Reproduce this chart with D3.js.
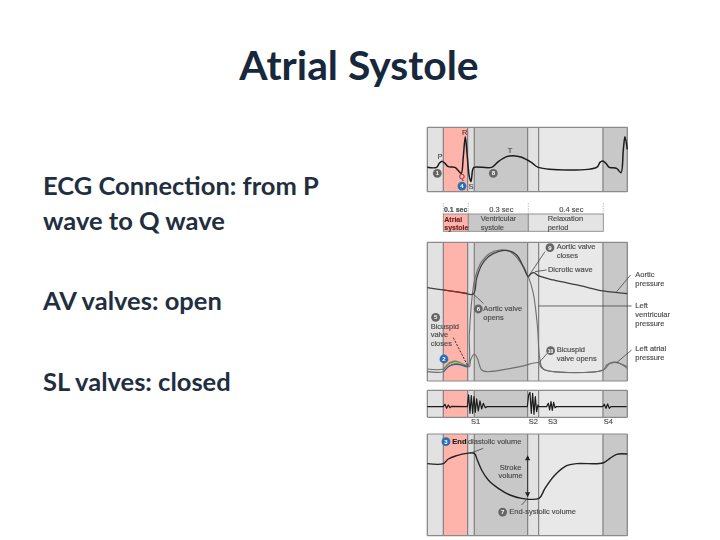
<!DOCTYPE html>
<html>
<head>
<meta charset="utf-8">
<script src="https://cdn.jsdelivr.net/npm/d3@7"></script>
<style>
  html, body { margin: 0; padding: 0; background: #fff; }
</style>
</head>
<body>
<div id="slide"></div>
<script>
// slide text
const titleText = "Atrial Systole";
const bodyLines = [
  ["ECG Connection: from P", 195], ["wave to Q wave", 230],
  ["AV valves: open", 310],
  ["SL valves: closed", 391]
];

// phase bands along the cardiac cycle (t = position across the figure, 0-600)
const bandEdges = [0, 48, 121, 141, 301, 334, 527, 600];
const bandColors = ["#e2e2e2", "#ffb4ab", "#dedede", "#c8c8c8", "#e2e2e2", "#e8e8e8", "#c8c8c8"];

// phase strip between the ECG and the pressure panel
const phaseEdges = [48, 123, 303, 528];
const phaseColors = ["#ffb4ab", "#c8c8c8", "#e4e4e4"];
const phaseDurations = ["0.1 sec", "0.3 sec", "0.4 sec"];

// traces, [t, value]
const ecg = [[0,73],[28,73],[36,85],[44,91],[53,85],[63,75],[83,73],[96,60],[102,55],[108,105],[114,165],[120,105],[126,45],[131,30],[136,65],[140,73],[193,73],[213,90],[238,105],[258,108],[283,103],[313,87],[333,73],[508,73],[518,88],[526,92],[536,85],[546,73],[568,70],[581,57],[588,125],[593,165],[600,127]];
const aortic = [[0,280],[48,273],[98,266],[138,261],[148,308],[163,348],[183,373],[213,388],[243,391],[268,378],[288,343],[303,313],[311,322],[320,325],[333,316],[378,303],[458,286],[528,270],[600,262]];
const aorticPink = [[48,273],[98,266],[121,263]];
const ventricular = [[0,28],[48,28],[63,43],[88,53],[121,43],[126,138],[133,238],[143,308],[163,358],[188,383],[218,393],[248,388],[278,358],[303,313],[318,263],[330,168],[336,78],[343,43],[353,33],[528,33],[548,53],[568,56],[600,38]];
const atrial = [[0,36],[48,36],[68,53],[88,58],[108,48],[126,43],[130,63],[141,81],[150,68],[163,33],[178,28],[278,43],[335,55],[340,43],[353,33],[528,33],[538,48],[563,56],[600,43]];
const atrialGreen = [[48,33],[63,53],[83,60],[103,53],[123,43]];
const atrialYellow = [[52,36],[68,50],[88,55],[106,50],[123,43]];
const atrialBlue = [[48,28],[68,46],[88,50],[123,43]];
const sounds = [[0,32],[48,32],[53,39],[58,27],[63,37],[68,29],[73,33],[120,32],[124,67],[128,12],[132,65],[136,12],[140,62],[144,15],[148,55],[153,19],[158,49],[163,25],[168,42],[174,29],[180,32],[300,32],[304,67],[308,75],[312,12],[316,72],[320,9],[324,62],[328,17],[332,37],[335,32],[358,32],[363,42],[367,22],[371,47],[375,21],[379,45],[383,29],[388,32],[526,32],[531,39],[536,27],[541,40],[546,27],[551,32],[598,32]];
const volume = [[0,216],[48,216],[63,230],[88,240],[118,247],[141,247],[150,227],[163,197],[183,167],[213,142],[248,122],[283,112],[335,112],[353,142],[383,182],[418,210],[448,216],[527,218],[548,232],[568,244],[600,245]];

const soundNames = [["S1",145],["S2",318],["S3",376],["S4",543]];

const svg = d3.select("#slide").append("svg")
  .attr("width", 720).attr("height", 540)
  .style("display", "block");

svg.append("text").attr("x", 359).attr("y", 80)
  .attr("text-anchor", "middle")
  .style("font", "700 40.8px Lato")
  .style("fill", "#17283c")
  .text(titleText);

svg.selectAll("text.body").data(bodyLines).join("text")
  .attr("class", "body")
  .attr("x", 43).attr("y", d => d[1])
  .style("font", "700 25.5px Lato")
  .style("fill", "#1f2f40")
  .text(d => d[0]);

// the figure is a soft scan in the reference
svg.append("defs").append("filter").attr("id", "soft")
  .append("feGaussianBlur").attr("stdDeviation", 0.35);
const fig = svg.append("g").attr("filter", "url(#soft)");

const x = d3.scaleLinear().domain([0, 600]).range([427.3, 627.3]);
const lineX = d3.line().x(d => x(d[0]));

function panel(top, bottom, maxV) {
  const y = d3.scaleLinear().domain([0, maxV]).range([bottom, top]);
  fig.selectAll(null).data(bandColors).join("rect")
    .attr("x", (d, i) => x(bandEdges[i]))
    .attr("y", top)
    .attr("width", (d, i) => x(bandEdges[i + 1]) - x(bandEdges[i]))
    .attr("height", bottom - top)
    .attr("fill", d => d);
  fig.selectAll(null).data(bandEdges).join("line")
    .attr("x1", d => x(d)).attr("x2", d => x(d))
    .attr("y1", top).attr("y2", bottom)
    .attr("stroke", "#808080").attr("stroke-width", 1.2);
  fig.append("line").attr("x1", x(0)).attr("x2", x(600)).attr("y1", top).attr("y2", top)
    .attr("stroke", "#8a8a8a").attr("stroke-width", 1.2);
  fig.append("line").attr("x1", x(0)).attr("x2", x(600)).attr("y1", bottom).attr("y2", bottom)
    .attr("stroke", "#8a8a8a").attr("stroke-width", 1.2);
  return y;
}

function trace(y, data, color, width, curve) {
  fig.append("path")
    .attr("d", lineX.y(d => y(d[1])).curve(curve || d3.curveCatmullRom.alpha(0.5))(data))
    .attr("fill", "none")
    .attr("stroke", color)
    .attr("stroke-width", width)
    .attr("stroke-linejoin", "round");
}

function label(y, t, v, txt, opts) {
  opts = opts || {};
  fig.append("text")
    .attr("x", x(t)).attr("y", y(v))
    .attr("text-anchor", opts.anchor || "start")
    .style("font", (opts.weight || "400") + " " + (opts.size || 7.5) + "px 'Liberation Sans'")
    .style("fill", opts.color || "#4a4a4a")
    .style("stroke", opts.color || "#4a4a4a")
    .style("stroke-width", 0.15)
    .text(txt);
}

function leader(y, t1, v1, t2, v2, dashed) {
  fig.append("line")
    .attr("x1", x(t1)).attr("y1", y(v1))
    .attr("x2", x(t2)).attr("y2", y(v2))
    .attr("stroke", dashed ? "#222" : "#444")
    .attr("stroke-width", dashed ? 0.9 : 0.8)
    .attr("stroke-dasharray", dashed ? "2.2,1.4" : null);
}

function badge(y, t, v, num, color) {
  fig.append("circle").attr("cx", x(t)).attr("cy", y(v)).attr("r", 4.4).attr("fill", color || "#666");
  fig.append("text").attr("x", x(t)).attr("y", y(v) + 2.1)
    .attr("text-anchor", "middle")
    .style("font", "700 " + (num.length > 1 ? 5 : 6) + "px 'Liberation Sans'")
    .style("fill", "#fff")
    .text(num);
}

// ECG panel
const yEcg = panel(127.3, 191.7, 193);
trace(yEcg, ecg, "#1c1c1c", 1.5);
label(yEcg, 38, 97, "P", {anchor: "middle"});
label(yEcg, 112, 171, "R", {anchor: "middle", color: "#7a2a2a"});
label(yEcg, 248, 116, "T", {anchor: "middle"});
label(yEcg, 104, 38, "Q", {anchor: "middle", color: "#7a2a2a"});
label(yEcg, 131, 8, "S", {anchor: "middle"});
badge(yEcg, 30, 55, "1");
badge(yEcg, 198, 55, "8");
badge(yEcg, 104, 17, "4", "#2a6fb0");

// phase strip
const yStrip = d3.scaleLinear().domain([0, 52]).range([231.3, 214]);
fig.selectAll(null).data(phaseColors).join("rect")
  .attr("x", (d, i) => x(phaseEdges[i]))
  .attr("y", yStrip(52))
  .attr("width", (d, i) => x(phaseEdges[i + 1]) - x(phaseEdges[i]))
  .attr("height", yStrip(0) - yStrip(52))
  .attr("fill", d => d)
  .attr("stroke", "#8a8a8a").attr("stroke-width", 0.9);
fig.selectAll(null).data(phaseEdges).join("line")
  .attr("x1", d => x(d)).attr("x2", d => x(d))
  .attr("y1", yStrip(52)).attr("y2", yStrip(86))
  .attr("stroke", "#999").attr("stroke-width", 0.7).attr("stroke-dasharray", "1.2,1.2");
label(yStrip, 50, 58, phaseDurations[0], {weight: "700", size: 7});
label(yStrip, 222, 58, phaseDurations[1], {anchor: "middle"});
label(yStrip, 432, 58, phaseDurations[2], {anchor: "middle"});
label(yStrip, 51, 29, "Atrial", {weight: "700", size: 7, color: "#6b1f1f"});
label(yStrip, 51, 4, "systole", {weight: "700", size: 7, color: "#6b1f1f"});
label(yStrip, 160, 31, "Ventricular");
label(yStrip, 160, 5, "systole");
label(yStrip, 361, 31, "Relaxation");
label(yStrip, 361, 5, "period");

// pressure panel
const yP = panel(242.3, 381, 416);
trace(yP, atrial, "#6e6e6e", 1.1);
trace(yP, ventricular, "#6e6e6e", 1.1);
trace(yP, aortic, "#3e3e3e", 1.3);
trace(yP, aorticPink, "#a02020", 1.2);
trace(yP, atrialYellow, "#d8c94a", 1);
trace(yP, atrialGreen, "#3f9a56", 1);
trace(yP, atrialBlue, "#2a5fa8", 1.1);
leader(yP, 138, 261, 168, 233);
leader(yP, 303, 313, 353, 388);
leader(yP, 323, 328, 358, 333);
leader(yP, 568, 268, 610, 318);
leader(yP, 333, 225, 613, 225);
leader(yP, 568, 55, 613, 93);
leader(yP, 335, 55, 360, 83);
leader(yP, 78, 130, 121, 46, true);
label(yP, 388, 396, "Aortic valve");
label(yP, 388, 370, "closes");
label(yP, 362, 326, "Dicrotic wave");
label(yP, 624, 312, "Aortic");
label(yP, 624, 286, "pressure");
label(yP, 168, 210, "Aortic valve");
label(yP, 168, 184, "opens");
label(yP, 624, 218, "Left");
label(yP, 624, 192, "ventricular");
label(yP, 624, 166, "pressure");
label(yP, 10, 156, "Bicuspid");
label(yP, 10, 131, "valve");
label(yP, 10, 106, "closes");
label(yP, 388, 86, "Bicuspid");
label(yP, 388, 60, "valve opens");
label(yP, 624, 89, "Left atrial");
label(yP, 624, 63, "pressure");
badge(yP, 368, 400, "9");
badge(yP, 153, 216, "6");
badge(yP, 25, 191, "5");
badge(yP, 370, 91, "10");
badge(yP, 50, 66, "2", "#2a6fb0");

// heart sounds panel
const yS = panel(390.3, 417.3, 81);
trace(yS, sounds, "#1c1c1c", 1.2, d3.curveLinear);
const ySnd = d3.scaleLinear().domain([0, 81]).range([417.3, 390.3]);
soundNames.forEach(d => label(ySnd, d[1], -21, d[0], {anchor: "middle"}));

// volume panel
const yV = panel(434, 535.7, 305);
trace(yV, volume, "#222", 1.4);
leader(yV, 128, 247, 168, 262);
leader(yV, 283, 92, 301, 112);
label(yV, 75, 276, "End", {weight: "700", color: "#1a1a1a"});
label(yV, 122, 276, "diastolic volume");
label(yV, 250, 197, "Stroke", {anchor: "middle"});
label(yV, 250, 172, "volume", {anchor: "middle"});
label(yV, 246, 64, "End-systolic volume");
badge(yV, 56, 282, "3", "#2a6fb0");
badge(yV, 226, 71, "7");

// stroke volume arrow
fig.append("line")
  .attr("x1", x(301)).attr("x2", x(301))
  .attr("y1", yV(238)).attr("y2", yV(118))
  .attr("stroke", "#222").attr("stroke-width", 0.8);
[[238, 1], [118, -1]].forEach(d => {
  fig.append("path")
    .attr("d", d3.line()([[x(301), yV(d[0] + 3 * d[1])], [x(301) - 2.6, yV(d[0] - 12 * d[1])], [x(301) + 2.6, yV(d[0] - 12 * d[1])]]))
    .attr("fill", "#222");
});
</script>
</body>
</html>
